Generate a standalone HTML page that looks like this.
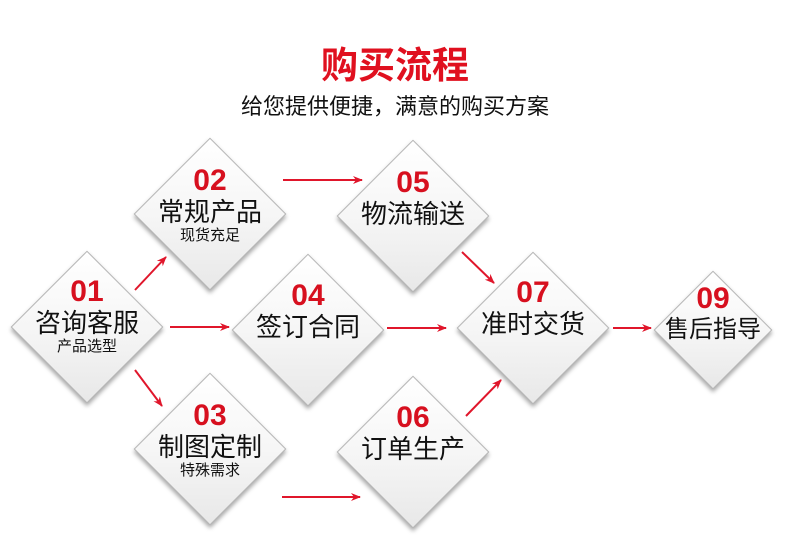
<!DOCTYPE html>
<html><head><meta charset="utf-8"><style>
body{margin:0;width:790px;height:556px;background:#fff;overflow:hidden;position:relative;font-family:"Liberation Sans","Noto Sans CJK SC",sans-serif}
.t{position:absolute;left:0;width:790px;text-align:center}
.d{position:absolute;width:106px;height:106px;transform:translate(-50%,-50%) rotate(45deg);background:linear-gradient(135deg,#fff 0%,#f6f6f6 50%,#e8e8e8 100%);border:1px solid #b5b5b5;box-shadow:2px 2px 4px rgba(0,0,0,.35)}
.s{width:82px;height:82px}
.l{position:absolute;transform:translateX(-50%);text-align:center;white-space:nowrap;color:#111}
.n{font-family:"Liberation Sans",sans-serif;font-weight:bold;color:#d7101f;font-size:30px;line-height:32px}
.m{font-size:26px;line-height:30px}
.x{font-size:15px;line-height:18px}
</style></head><body>
<div class="t" style="top:43px;font-size:37px;font-weight:bold;color:#e0101f;line-height:46px">购买流程</div>
<div class="t" style="top:94px;font-size:22px;color:#111;line-height:26px">给您提供便捷，满意的购买方案</div>
<svg width="790" height="556" style="position:absolute;left:0;top:0">
<defs><marker id="a" markerWidth="10" markerHeight="8" refX="9" refY="4" orient="auto" markerUnits="userSpaceOnUse"><path d="M0,0L10,4L0,8L3,4z" fill="#e0162b"/></marker></defs>
<g stroke="#e0162b" stroke-width="2" marker-end="url(#a)">
<line x1="283" y1="180" x2="362" y2="180"/>
<line x1="135" y1="290" x2="166" y2="257"/>
<line x1="170" y1="327" x2="229" y2="327"/>
<line x1="135" y1="370" x2="162" y2="406"/>
<line x1="387" y1="328" x2="446" y2="328"/>
<line x1="282" y1="497" x2="360" y2="497"/>
<line x1="462" y1="252" x2="494" y2="283"/>
<line x1="466" y1="416" x2="501" y2="380"/>
<line x1="613" y1="328" x2="651" y2="328"/>
</g></svg>
<div class="d" style="left:87px;top:327px"></div>
<div class="d" style="left:210px;top:214px"></div>
<div class="d" style="left:210px;top:449px"></div>
<div class="d" style="left:308px;top:330px"></div>
<div class="d" style="left:413px;top:216px"></div>
<div class="d" style="left:413px;top:452px"></div>
<div class="d" style="left:533px;top:328px"></div>
<div class="d s" style="left:713px;top:330px"></div>
<div class="l" style="left:87px;top:276px"><div class="n">01</div><div class="m">咨询客服</div><div class="x">产品选型</div></div>
<div class="l" style="left:210px;top:165px"><div class="n">02</div><div class="m">常规产品</div><div class="x">现货充足</div></div>
<div class="l" style="left:210px;top:400px"><div class="n">03</div><div class="m">制图定制</div><div class="x">特殊需求</div></div>
<div class="l" style="left:308px;top:280px"><div class="n">04</div><div class="m">签订合同</div></div>
<div class="l" style="left:413px;top:167px"><div class="n">05</div><div class="m">物流输送</div></div>
<div class="l" style="left:413px;top:402px"><div class="n">06</div><div class="m">订单生产</div></div>
<div class="l" style="left:533px;top:277px"><div class="n">07</div><div class="m">准时交货</div></div>
<div class="l" style="left:713px;top:283px"><div class="n">09</div><div class="m" style="font-size:24px">售后指导</div></div>
</body></html>
